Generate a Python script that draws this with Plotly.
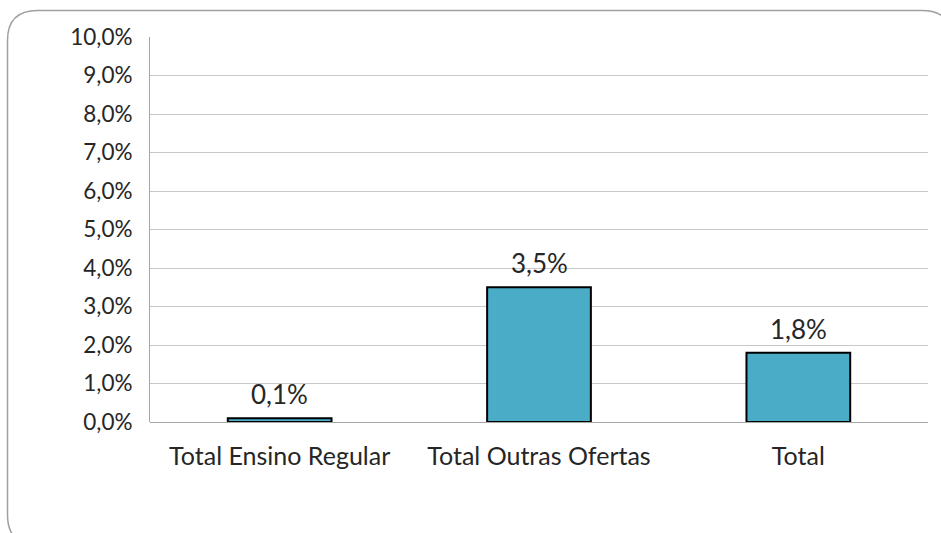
import plotly.graph_objects as go

# Data
categories = ["Total Ensino Regular", "Total Outras Ofertas", "Total"]
values = [0.1, 3.5, 1.8]  # percent

W, H = 941, 533
ML, MR, MT, MB = 150, 13, 37, 111
PW, PH = W - ML - MR, H - MT - MB

def px(x):  # pixel -> paper x
    return (x - ML) / PW

def py(y):  # pixel -> paper y
    return 1 - (y - MT) / PH

# Rounded frame around the chart
l, t, r, b, rad = 7.5, 10.5, 952, 545, 30
frame = (
    f"M {px(l)},{py(t + rad)} "
    f"Q {px(l)},{py(t)} {px(l + rad)},{py(t)} "
    f"L {px(r - rad)},{py(t)} "
    f"Q {px(r)},{py(t)} {px(r)},{py(t + rad)} "
    f"L {px(r)},{py(b - rad)} "
    f"Q {px(r)},{py(b)} {px(r - rad)},{py(b)} "
    f"L {px(l + rad)},{py(b)} "
    f"Q {px(l)},{py(b)} {px(l)},{py(b - rad)} Z"
)

font = "Lato, Open Sans, sans-serif"
ink = "#262626"

fig = go.Figure(
    go.Bar(
        x=categories,
        y=values,
        width=0.4,
        marker=dict(color="#4AACC6", line=dict(color="#000000", width=2)),
        hoverinfo="x+y",
    )
)

# Value labels above each bar
for cat, v in zip(categories, values):
    fig.add_annotation(
        x=cat, y=v, xref="x", yref="y",
        text=f"{v:.1f}%".replace(".", ","),
        showarrow=False, yanchor="bottom", yshift=6,
        font=dict(size=26, color=ink, family=font),
    )

fig.update_layout(
    width=W,
    height=H,
    margin=dict(l=ML, r=MR, t=MT, b=MB),
    paper_bgcolor="white",
    plot_bgcolor="white",
    separators=",.",
    showlegend=False,
    font=dict(family=font, color=ink),
    shapes=[
        dict(type="path", path=frame, xref="paper", yref="paper",
             line=dict(color="#A0A0A0", width=1.5), layer="below"),
    ],
)

fig.update_yaxes(
    range=[0, 10],
    dtick=1,
    tickformat=".1f",
    ticksuffix="%",
    tickfont=dict(size=22.5, color=ink),
    showgrid=True,
    gridcolor="#C8C8C8",
    gridwidth=1,
    zeroline=True,
    zerolinecolor="#A6A6A6",
    zerolinewidth=1,
    showline=True,
    linecolor="#A6A6A6",
    linewidth=1,
    ticks="outside",
    ticklen=12,
    tickcolor="rgba(0,0,0,0)",
)

fig.update_xaxes(
    tickfont=dict(size=25, color=ink),
    showgrid=False,
    showline=False,
    ticks="outside",
    ticklen=12,
    tickcolor="rgba(0,0,0,0)",
)

fig.write_html("out.html")
